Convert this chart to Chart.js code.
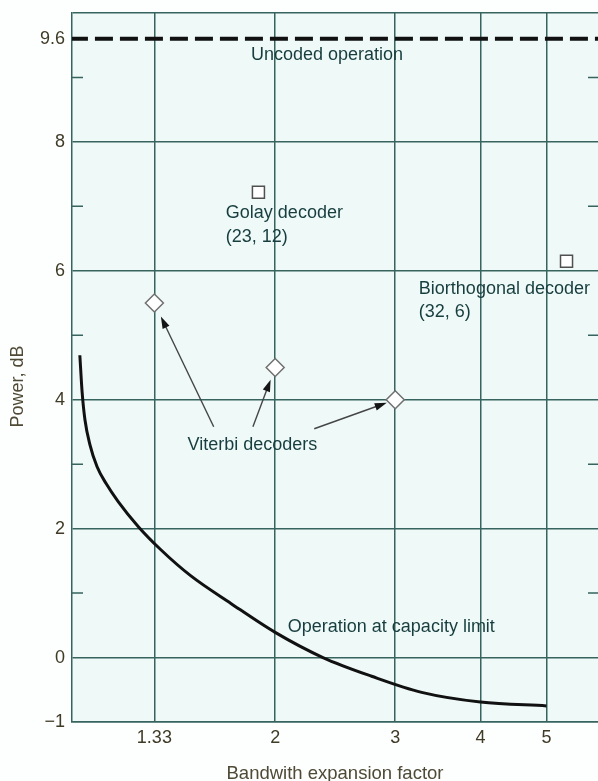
<!DOCTYPE html>
<html>
<head>
<meta charset="utf-8">
<script src="https://cdn.jsdelivr.net/npm/chart.js@4.4.1/dist/chart.umd.min.js"></script>
<style>
  html, body { margin: 0; padding: 0; background: #fdfefe; overflow: hidden; }
  #wrap { width: 598px; height: 781px; }
</style>
</head>
<body>
<div id="wrap"><canvas id="chart"></canvas></div>
<script>
// axis ticks
const xTickValues = [1.33, 2, 3, 4, 5];
const xTickLabels = ['1.33', '2', '3', '4', '5'];
const yTickValues = [-1, 0, 2, 4, 6, 8, 9.6, 10];
const yTickLabels = ['\u22121', '0', '2', '4', '6', '8', '9.6', ''];
const yMinorTicks = [1, 3, 5, 7, 9];

// uncoded reference level
const uncodedX = [1, 6];
const uncodedY = [9.6, 9.6];

// operation at capacity limit
const capacityX = [1.034, 1.042, 1.052, 1.070, 1.096, 1.130, 1.177, 1.260, 1.357, 1.503, 1.722, 2.0, 2.35, 2.77, 3.28, 4.0, 5.0];
const capacityY = [4.69, 4.12, 3.69, 3.30, 2.96, 2.70, 2.42, 2.03, 1.68, 1.27, 0.84, 0.39, 0.0, -0.29, -0.54, -0.69, -0.75];

// block decoders
const golayX = [1.89];
const golayY = [7.22];
const biorthX = [5.35];
const biorthY = [6.15];

// Viterbi decoders
const viterbiX = [1.33, 2, 3];
const viterbiY = [5.5, 4.5, 4.0];

const gridColor = '#37645e';
const tickColor = '#3f3b27';
const noteColor = '#173d3e';
const fontFamily = '"Liberation Sans", Arial, sans-serif';

const toPoints = (xs, ys) => xs.map((x, i) => ({ x, y: ys[i] }));

// text notes placed in data units
const notes = [
  { text: 'Uncoded operation', x: 1.843, y: 9.35 },
  { text: 'Golay decoder', x: 1.693, y: 6.89 },
  { text: '(23, 12)', x: 1.693, y: 6.52 },
  { text: 'Biorthogonal decoder', x: 3.249, y: 5.72 },
  { text: '(32, 6)', x: 3.249, y: 5.36 },
  { text: 'Viterbi decoders', x: 1.488, y: 3.30 },
  { text: 'Operation at capacity limit', x: 2.087, y: 0.48 }
];

// arrows from the Viterbi label to each diamond
const arrows = [
  { from: { x: 1.625, y: 3.58 }, to: 0, gap: 15 },
  { from: { x: 1.855, y: 3.58 }, to: 1, gap: 13 },
  { from: { x: 2.282, y: 3.55 }, to: 2, gap: 9 }
];

const background = {
  id: 'background',
  beforeDraw(chart) {
    const { ctx, chartArea: a } = chart;
    ctx.save();
    ctx.fillStyle = '#fdfefe';
    ctx.fillRect(0, 0, chart.width, chart.height);
    ctx.fillStyle = '#eef9f8';
    ctx.fillRect(a.left, a.top, a.right - a.left, a.bottom - a.top);
    ctx.restore();
  }
};

const minorTicks = {
  id: 'minorTicks',
  beforeDatasetsDraw(chart) {
    const { ctx, chartArea: a, scales } = chart;
    ctx.save();
    ctx.strokeStyle = gridColor;
    ctx.lineWidth = 1.5;
    yMinorTicks.forEach(v => {
      const py = scales.y.getPixelForValue(v);
      ctx.beginPath();
      ctx.moveTo(a.left, py);
      ctx.lineTo(a.left + 11, py);
      ctx.moveTo(a.right - 10, py);
      ctx.lineTo(a.right, py);
      ctx.stroke();
    });
    ctx.restore();
  }
};

const annotations = {
  id: 'annotations',
  afterDatasetsDraw(chart) {
    const { ctx, chartArea: a, scales } = chart;
    const sx = scales.x, sy = scales.y;
    ctx.save();

    ctx.font = '18px ' + fontFamily;
    ctx.fillStyle = noteColor;
    ctx.textAlign = 'left';
    ctx.textBaseline = 'middle';
    notes.forEach(n => {
      ctx.fillText(n.text, sx.getPixelForValue(n.x), sy.getPixelForValue(n.y));
    });

    arrows.forEach(ar => {
      const x0 = sx.getPixelForValue(ar.from.x);
      const y0 = sy.getPixelForValue(ar.from.y);
      const cx = sx.getPixelForValue(viterbiX[ar.to]);
      const cy = sy.getPixelForValue(viterbiY[ar.to]);
      const ang = Math.atan2(cy - y0, cx - x0);
      const x1 = cx - Math.cos(ang) * ar.gap;
      const y1 = cy - Math.sin(ang) * ar.gap;
      ctx.strokeStyle = '#454545';
      ctx.lineWidth = 1.4;
      ctx.beginPath();
      ctx.moveTo(x0, y0);
      ctx.lineTo(x1 - Math.cos(ang) * 6, y1 - Math.sin(ang) * 6);
      ctx.stroke();
      // arrow head
      const len = 12, half = 3.8;
      ctx.fillStyle = '#151515';
      ctx.beginPath();
      ctx.moveTo(x1, y1);
      ctx.lineTo(x1 - Math.cos(ang) * len - Math.sin(ang) * half, y1 - Math.sin(ang) * len + Math.cos(ang) * half);
      ctx.lineTo(x1 - Math.cos(ang) * len + Math.sin(ang) * half, y1 - Math.sin(ang) * len - Math.cos(ang) * half);
      ctx.closePath();
      ctx.fill();
    });

    // vertical axis title
    ctx.translate(18, (a.top + a.bottom) / 2 + 19);
    ctx.rotate(-Math.PI / 2);
    ctx.textAlign = 'center';
    ctx.font = '18px ' + fontFamily;
    ctx.fillStyle = '#4f4a35';
    ctx.fillText('Power, dB', 0, 0);
    ctx.restore();
  }
};

new Chart(document.getElementById('chart'), {
  type: 'scatter',
  data: {
    datasets: [
      {
        label: 'Uncoded operation',
        data: toPoints(uncodedX, uncodedY),
        showLine: true,
        borderColor: '#111111',
        borderWidth: 4,
        borderDash: [18, 7],
        pointRadius: 0
      },
      {
        label: 'Operation at capacity limit',
        data: toPoints(capacityX, capacityY),
        showLine: true,
        borderColor: '#111111',
        borderWidth: 3,
        cubicInterpolationMode: 'monotone',
        pointRadius: 0
      },
      {
        label: 'Golay decoder (23, 12)',
        data: toPoints(golayX, golayY),
        pointStyle: 'rect',
        pointRadius: 8.5,
        backgroundColor: '#ffffff',
        borderColor: '#505050',
        borderWidth: 1.5
      },
      {
        label: 'Biorthogonal decoder (32, 6)',
        data: toPoints(biorthX, biorthY),
        pointStyle: 'rect',
        pointRadius: 8.5,
        backgroundColor: '#ffffff',
        borderColor: '#505050',
        borderWidth: 1.5
      },
      {
        label: 'Viterbi decoders',
        data: toPoints(viterbiX, viterbiY),
        pointStyle: 'rectRot',
        pointRadius: 9,
        backgroundColor: '#ffffff',
        borderColor: '#707070',
        borderWidth: 1.5
      }
    ]
  },
  options: {
    responsive: true,
    maintainAspectRatio: false,
    animation: false,
    layout: { autoPadding: false, padding: { top: 13, right: 0, bottom: 0, left: 0 } },
    plugins: {
      legend: { display: false },
      tooltip: { enabled: false }
    },
    scales: {
      x: {
        type: 'logarithmic',
        min: 1.007,
        max: 5.95,
        afterBuildTicks: s => { s.ticks = xTickValues.map(v => ({ value: v })); },
        afterFit: s => { s.height = 59; s.paddingLeft = 0; s.paddingRight = 0; },
        ticks: {
          callback: (v, i) => xTickLabels[i],
          autoSkip: false,
          maxRotation: 0,
          padding: 5,
          color: tickColor,
          font: { family: fontFamily, size: 18 }
        },
        grid: { color: gridColor, lineWidth: 1.5, drawTicks: false },
        border: { color: gridColor, width: 1.5 },
        title: {
          display: true,
          text: 'Bandwith expansion factor',
          color: '#4f4a35',
          font: { family: fontFamily, size: 18.5, lineHeight: 1 },
          padding: { top: 0, bottom: -2 }
        }
      },
      y: {
        type: 'linear',
        min: -1,
        max: 10,
        afterBuildTicks: s => { s.ticks = yTickValues.map(v => ({ value: v })); },
        afterFit: s => { s.width = 72; s.paddingTop = 0; s.paddingBottom = 0; },
        ticks: {
          callback: (v, i) => yTickLabels[i],
          autoSkip: false,
          padding: 7,
          color: tickColor,
          font: { family: fontFamily, size: 18 }
        },
        grid: {
          color: ctx => (ctx.tick && ctx.tick.value === 9.6 ? 'rgba(0,0,0,0)' : gridColor),
          lineWidth: 1.5,
          drawTicks: false
        },
        border: { color: gridColor, width: 1.5 }
      }
    }
  },
  plugins: [background, minorTicks, annotations]
});
</script>
</body>
</html>
